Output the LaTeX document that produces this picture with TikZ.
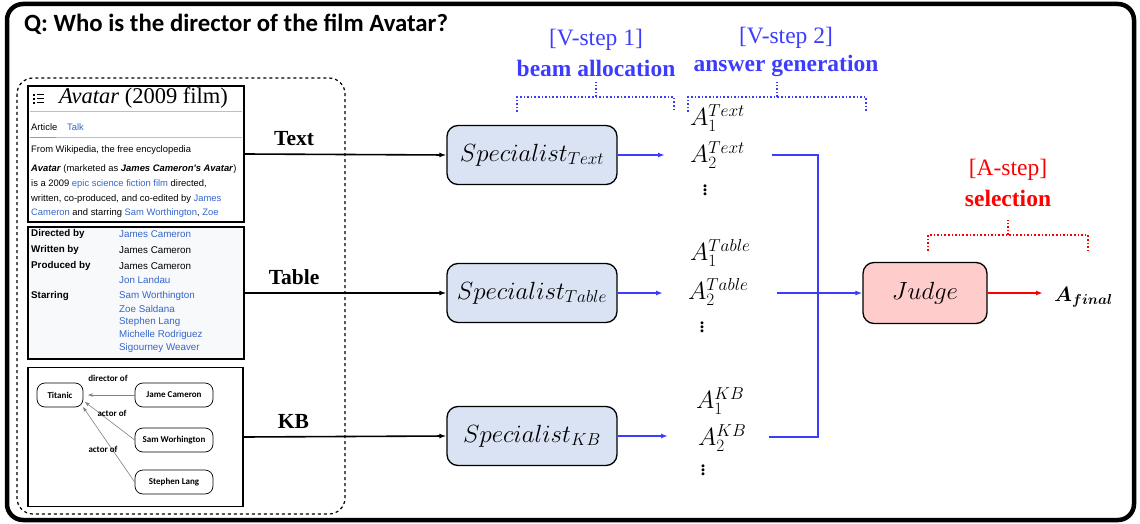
\documentclass[tikz,border=0pt]{standalone}
\usepackage{amsmath,bm}
\usepackage{fontspec}
\setmainfont{Liberation Serif}
\newfontfamily\wikifont{Liberation Sans}
\newfontfamily\carlfont{Carlito}
\usetikzlibrary{arrows.meta}
\definecolor{vblue}{RGB}{60,60,255}
\definecolor{wblue}{RGB}{51,102,204}
\definecolor{specfill}{RGB}{218,227,243}
\definecolor{judgefill}{RGB}{255,204,204}
\definecolor{tabfill}{RGB}{248,249,250}
\definecolor{vred}{RGB}{255,0,0}
\tikzset{
  box/.style={draw=black,line width=1.5pt},
  spec/.style={draw=black,line width=1.3pt,fill=specfill,rounded corners=11pt,minimum width=170pt,minimum height=59pt,font=\fontsize{24}{26}\selectfont},
  judgebox/.style={draw=black,line width=1.3pt,fill=judgefill,rounded corners=11pt,minimum width=124pt,minimum height=61pt,font=\fontsize{25}{27}\selectfont},
  wl/.style={anchor=west,inner sep=0pt,font=\wikifont\fontsize{9.4}{10}\selectfont},
  tl/.style={anchor=west,inner sep=0pt,font=\wikifont\fontsize{9.8}{10}\selectfont},
  tlb/.style={anchor=west,inner sep=0pt,font=\wikifont\bfseries\fontsize{9.8}{10}\selectfont},
  kbnode/.style={draw=black,line width=0.7pt,rounded corners=8pt,font=\carlfont\bfseries\fontsize{9}{10}\selectfont},
  kblab/.style={inner sep=0pt,font=\carlfont\bfseries\fontsize{9}{10}\selectfont},
  kbarrow/.style={draw=gray,line width=0.6pt,-{Stealth[length=5pt,width=3.5pt]}},
  srclab/.style={font=\bfseries\fontsize{21.5}{23}\selectfont},
  blackarrow/.style={line width=1.6pt,-{Latex[length=7pt,width=5pt]}},
  bluearrow/.style={draw=vblue,line width=1.5pt,-{Latex[length=7pt,width=5pt]}},
  blueline/.style={draw=vblue,line width=1.6pt},
  redarrow/.style={draw=vred,line width=1.5pt,-{Latex[length=7pt,width=5pt]}},
  ans/.style={inner sep=0pt,font=\fontsize{23}{24}\selectfont},
  vdot/.style={inner sep=0pt,font=\fontsize{18}{18}\selectfont},
  stepbrace/.style={dotted,line width=1.6pt},
  steplab/.style={font=\fontsize{23.5}{25}\selectfont},
  steplabb/.style={font=\bfseries\fontsize{23.5}{25}\selectfont}
}
\begin{document}
\begin{tikzpicture}[x=1pt,y=-1pt]
\useasboundingbox (0,0) rectangle (1140,524);
% outer frame
\draw[line width=4.5pt,rounded corners=16pt] (7,4) rectangle (1134,520);
\node[anchor=west,inner sep=0pt,font=\carlfont\bfseries\fontsize{24.8}{27}\selectfont] (title) at (24,24) {Q: Who is the director of the film Avatar?};
% dashed container
\draw[dashed,line width=1.2pt,rounded corners=16pt] (17,78) rectangle (345,514);

% ---- Text box
\node[box,minimum width=216pt,minimum height=136pt,inner sep=0pt] (wtext) at (136,154) {};
\fill (33,94) rectangle (35,96); \fill (33,98) rectangle (35,100); \fill (33,102) rectangle (35,104);
\draw[line width=1pt] (37,95) -- (44,95) (37,99) -- (44,99) (37,103) -- (44,103);
\node[anchor=west,inner sep=0pt,font=\fontsize{22.5}{24}\selectfont] (wtitle) at (59,98) {\textit{Avatar} (2009 film)};
\draw[gray!50,line width=0.6pt] (30,111) -- (242,111);
\node[wl] (art) at (31,127) {Article};
\node[wl,text=wblue] (talk) at (67,127) {Talk};
\draw[gray!50,line width=0.6pt] (30,137) -- (242,137);
\draw[gray!80,line width=0.8pt] (30,137) -- (56,137);
\node[wl] (w1) at (31,150) {From Wikipedia, the free encyclopedia};
\node[wl] (w2) at (31,169) {\textbf{\textit{Avatar}} (marketed as \textbf{\textit{James Cameron's Avatar}})};
\node[wl] (w3) at (31,184) {is a 2009 \textcolor{wblue}{epic science fiction film} directed,};
\node[wl] (w4) at (31,199) {written, co-produced, and co-edited by \textcolor{wblue}{James}};
\node[wl] (w5) at (31,213) {\textcolor{wblue}{Cameron} and starring \textcolor{wblue}{Sam Worthington}, \textcolor{wblue}{Zoe}};

% ---- Table box
\node[box,fill=tabfill,minimum width=216pt,minimum height=132pt,inner sep=0pt] (wtable) at (136,293) {};
\node[tlb] (t1) at (31,234) {Directed by};
\node[tl,text=wblue] (v1) at (119,234) {James Cameron};
\node[tlb] (t2) at (31,250) {Written by};
\node[tl] (v2) at (119,250) {James Cameron};
\node[tlb] (t3) at (31,266) {Produced by};
\node[tl] (v3) at (119,266) {James Cameron};
\node[tl,text=wblue] (v3b) at (119,280) {Jon Landau};
\node[tlb] (t4) at (31,296) {Starring};
\node[tl,text=wblue] (v4) at (119,296) {Sam Worthington};
\node[tl,text=wblue] (v4b) at (119,309) {Zoe Saldana};
\node[tl,text=wblue] (v4c) at (119,322) {Stephen Lang};
\node[tl,text=wblue] (v4d) at (119,335) {Michelle Rodriguez};
\node[tl,text=wblue] (v4e) at (119,348) {Sigourney Weaver};

% ---- KB box
\node[box,minimum width=215pt,minimum height=139pt,inner sep=0pt] (wkb) at (135.5,437) {};
\node[kbnode,minimum width=46pt,minimum height=24pt,inner sep=0pt] (titanic) at (60,395) {Titanic};
\node[kbnode,minimum width=78pt,minimum height=24pt,inner sep=0pt] (jc) at (174,395) {Jame Cameron};
\node[kbnode,minimum width=78pt,minimum height=24pt,inner sep=0pt] (sw) at (174,440) {Sam Worhington};
\node[kbnode,minimum width=78pt,minimum height=24pt,inner sep=0pt] (sl) at (174,482) {Stephen Lang};
\coordinate (ti1) at (88,395);
\coordinate (ti2) at (85,402);
\coordinate (ti3) at (83,407);
\draw[kbarrow] (jc.west) -- (ti1);
\draw[kbarrow] (sw.west) -- (ti2);
\draw[kbarrow] (sl.west) -- (ti3);
\node[kblab] (l1) at (108,378) {director of};
\node[kblab] (l2) at (112,413) {actor of};
\node[kblab] (l3) at (103,449) {actor of};

% ---- specialists
\node[spec] (spT) at (532,155) {$Specialist_{Text}$};
\node[spec] (spB) at (532,293) {$Specialist_{Table}$};
\node[spec] (spK) at (532,436) {$Specialist_{KB}$};
\draw[blackarrow] (wtext.east) -- (spT.west) node[pos=0.245,above=4pt,srclab] (labT) {Text};
\draw[blackarrow] (wtable.east) -- (spB.west) node[pos=0.245,above=4pt,srclab] (labB) {Table};
\draw[blackarrow] (wkb.east) -- (spK.west) node[pos=0.245,above=4pt,srclab] (labK) {KB};

% ---- answers
\node[ans,anchor=west] (a1T) at (690,118) {$A_1^{Text}$};
\node[ans,anchor=west] (a2T) at (690,155) {$A_2^{Text}$};
\node[vdot] (dT) at (705,187) {$\bm{\vdots}$};
\node[ans,anchor=west] (a1B) at (690,253) {$A_1^{Table}$};
\node[ans,anchor=west] (a2B) at (688,292) {$A_2^{Table}$};
\node[vdot] (dB) at (702,324) {$\bm{\vdots}$};
\node[ans,anchor=west] (a1K) at (696,401) {$A_1^{KB}$};
\node[ans,anchor=west] (a2K) at (698,438) {$A_2^{KB}$};
\node[vdot] (dK) at (703,467) {$\bm{\vdots}$};

\coordinate (eT) at (665,155);
\coordinate (eB) at (663,293);
\coordinate (eK) at (668,436);
\draw[bluearrow] (spT.east) -- (eT);
\draw[bluearrow] (spB.east) -- (eB);
\draw[bluearrow] (spK.east) -- (eK);

% ---- judge
\node[judgebox] (judge) at (925,293) {$Judge$};
\coordinate (oT) at (772,155);
\coordinate (jT) at (818,155);
\coordinate (jK) at (818,437);
\coordinate (oK) at (769,437);
\coordinate (oB) at (777,293);
\draw[blueline] (oT) -- (jT) -- (jK) -- (oK);
\draw[bluearrow,line width=1.6pt] (oB) -- (judge.west);
\node[anchor=west,inner sep=0pt,font=\fontsize{22}{24}\selectfont] (final) at (1054,297) {$\bm{A_{final}}$};
\coordinate (rf) at (1043,293);
\draw[redarrow] (judge.east) -- (rf);

% ---- step braces
\draw[stepbrace,vblue] (517,112) -- (517,97) -- (674,97) -- (674,112);
\draw[stepbrace,vblue] (596,97) -- (596,82);
\draw[stepbrace,vblue] (688,112) -- (688,97) -- (866,97) -- (866,112);
\draw[stepbrace,vblue] (777,97) -- (777,82);
\draw[stepbrace,vred] (928,251) -- (928,235) -- (1088,235) -- (1088,251);
\draw[stepbrace,vred] (1008,235) -- (1008,220);
\node[steplab,text=vblue] (s1a) at (596,40) {[V-step 1]};
\node[steplabb,text=vblue] (s1b) at (596,68) {beam allocation};
\node[steplab,text=vblue] (s2a) at (786,38) {[V-step 2]};
\node[steplabb,text=vblue] (s2b) at (786,66) {answer generation};
\node[steplab,text=vred] (s3a) at (1008,170) {[A-step]};
\node[steplabb,text=vred] (s3b) at (1008,198) {selection};
\end{tikzpicture}
\end{document}
